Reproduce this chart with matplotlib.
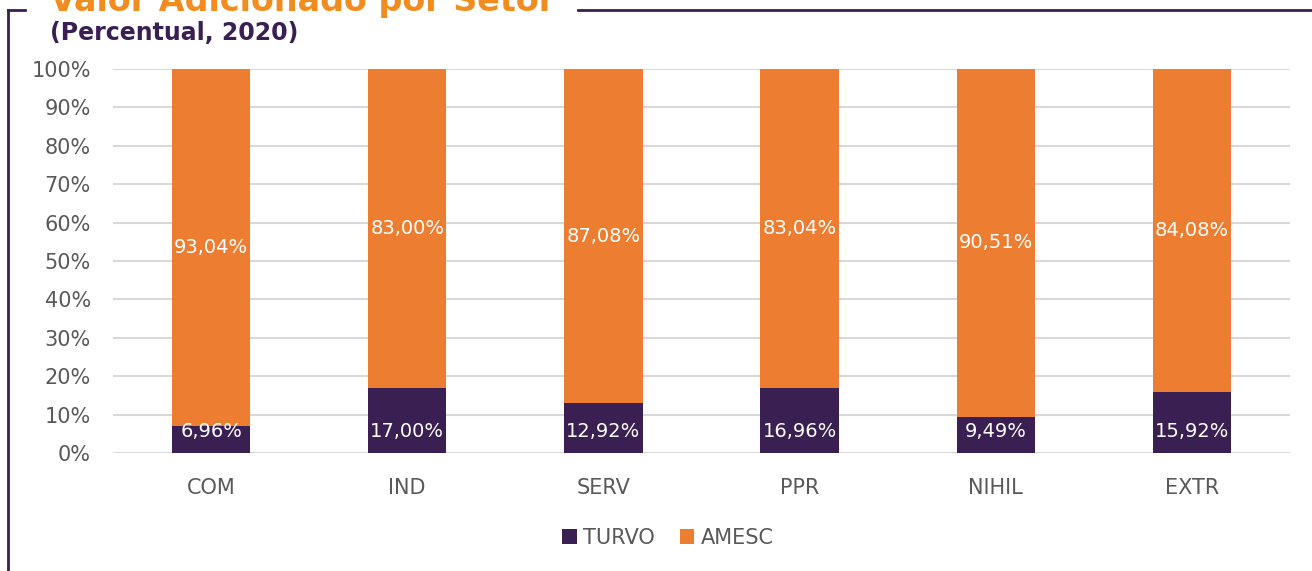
import numpy as np
import matplotlib.pyplot as plt
from matplotlib.lines import Line2D

setores = ["COM", "IND", "SERV", "PPR", "NIHIL", "EXTR"]
turvo = [6.96, 17.00, 12.92, 16.96, 9.49, 15.92]
amesc = [93.04, 83.00, 87.08, 83.04, 90.51, 84.08]

ROXO = "#3A1F52"
LARANJA = "#ED7D31"
CINZA = "#595959"

W, H = 1312, 571
fig = plt.figure(figsize=(W / 100, H / 100), dpi=100)
ax = fig.add_axes([113 / W, 1 - 453 / H, (1290 - 113) / W, (453 - 69) / H])

x = np.arange(len(setores))
ax.bar(x, turvo, width=0.4, color=ROXO, label="TURVO", zorder=3)
ax.bar(x, amesc, width=0.4, bottom=turvo, color=LARANJA, label="AMESC", zorder=3)

for i in range(len(setores)):
    ax.text(x[i], 5.5, f"{turvo[i]:.2f}%".replace(".", ","), ha="center", va="center",
            color="white", fontsize=14, zorder=4)
    ax.text(x[i], turvo[i] + amesc[i] / 2, f"{amesc[i]:.2f}%".replace(".", ","),
            ha="center", va="center", color="white", fontsize=14, zorder=4)

ax.set_xlim(-0.5, len(setores) - 0.5)
ax.set_ylim(0, 100)
ax.set_yticks(np.arange(0, 101, 10))
ax.set_yticklabels([f"{v}%" for v in range(0, 101, 10)])
ax.set_xticks(x)
ax.set_xticklabels(setores)
ax.tick_params(length=0, colors=CINZA, labelsize=15)
ax.tick_params(axis="x", pad=18)
ax.tick_params(axis="y", pad=16)
ax.grid(axis="y", color="#D9D9D9", linewidth=1.5, zorder=0)
for s in ax.spines.values():
    s.set_visible(False)

leg = fig.legend(loc="center", bbox_to_anchor=(668 / W, 1 - 538 / H), ncol=2, frameon=False,
                 fontsize=15, handlelength=0.7, handleheight=0.7, handletextpad=0.3,
                 columnspacing=1.2)
for t in leg.get_texts():
    t.set_color(CINZA)

# moldura
fig.add_artist(Line2D([8 / W, 8 / W], [0, 1 - 10 / H], color=ROXO, linewidth=2))
fig.add_artist(Line2D([8 / W, 25 / W], [1 - 10 / H, 1 - 10 / H], color=ROXO, linewidth=2))
fig.add_artist(Line2D([578 / W, 1], [1 - 10 / H, 1 - 10 / H], color=ROXO, linewidth=2))

fig.text(50 / W, 1 - 11 / H, "Valor Adicionado por Setor", color="#F28C1E", fontsize=24,
         fontweight="bold", va="baseline", ha="left")
fig.text(50 / W, 1 - 33 / H, "(Percentual, 2020)", color=ROXO, fontsize=17,
         fontweight="bold", va="center", ha="left")

fig.savefig("out.png", dpi=100)
